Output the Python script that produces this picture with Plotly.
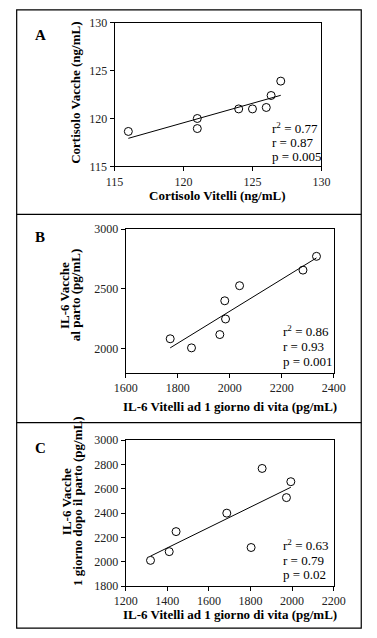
import plotly.graph_objects as go

W, H = 377, 638
SERIF = "Liberation Serif"

# ---------------- data ----------------
a_x = [116.0, 121.0, 121.0, 124.0, 125.0, 126.0, 126.35, 127.05]
a_y = [118.65, 120.0, 118.95, 121.0, 121.0, 121.15, 122.4, 123.9]
a_fit_x = [116.0, 127.05]
a_fit_y = [117.93, 122.42]

b_x = [1771, 1853, 1962, 1981, 1984, 2038, 2282, 2334]
b_y = [2084, 2008, 2119, 2401, 2249, 2527, 2657, 2772]
b_fit_x = [1771, 2334]
b_fit_y = [2008, 2759]

c_x = [1319, 1409, 1442, 1686, 1803, 1856, 1973, 1994]
c_y = [2011, 2083, 2248, 2400, 2117, 2768, 2528, 2659]
c_fit_x = [1319, 1994]
c_fit_y = [2046, 2613]

a_stats = ["r<sup>2</sup> = 0.77", "r = 0.87", "p = 0.005"]
b_stats = ["r<sup>2</sup> = 0.86", "r = 0.93", "p = 0.001"]
c_stats = ["r<sup>2</sup> = 0.63", "r = 0.79", "p = 0.02"]

a_xticks = [115, 120, 125, 130]
a_yticks = [115, 120, 125, 130]
b_xticks = [1600, 1800, 2000, 2200, 2400]
b_yticks = [2000, 2500, 3000]
c_xticks = [1200, 1400, 1600, 1800, 2000, 2200]
c_yticks = [1800, 2000, 2200, 2400, 2600, 2800, 3000]

panels = [
    dict(letter="A", x=a_x, y=a_y, fx=a_fit_x, fy=a_fit_y, stats=a_stats,
         xt=a_xticks, yt=a_yticks, xr=[115, 130], yr=[115, 130],
         xtitle="Cortisolo Vitelli (ng/mL)",
         ytitle=["Cortisolo Vacche (ng/mL)"], ytc=88,
         px=(109.5, 330.5), py=(16, 163), letter_pos=(22, 29),
         stat_pos=(276, [123.5, 138.5, 152.5]), xtt=193, ytt=[67]),
    dict(letter="B", x=b_x, y=b_y, fx=b_fit_x, fy=b_fit_y, stats=b_stats,
         xt=b_xticks, yt=b_yticks, xr=[1600, 2400], yr=[1800, 3000],
         xtitle="IL-6 Vitelli ad 1 giorno di vita (pg/mL)",
         ytitle=["IL-6 Vacche", "al parto (pg/mL)"], ytc=295,
         px=(121.5, 343.5), py=(227, 374), letter_pos=(22, 235),
         stat_pos=(287.5, [331.5, 347.5, 362]), xtt=408, ytt=[56, 68]),
    dict(letter="C", x=c_x, y=c_y, fx=c_fit_x, fy=c_fit_y, stats=c_stats,
         xt=c_xticks, yt=c_yticks, xr=[1200, 2200], yr=[1800, 3000],
         xtitle="IL-6 Vitelli ad 1 giorno di vita (pg/mL)",
         ytitle=["IL-6 Vacche", "1 giorno dopo il parto (pg/mL)"], ytc=506,
         px=(121.5, 343.5), py=(443, 592), letter_pos=(22, 451),
         stat_pos=(287.5, [550.5, 566, 580]), xtt=621, ytt=[59, 70.5]),
]


def fx(p):
    return p / W


def fy(p):
    return 1 - p / H


fig = go.Figure()
annotations = []
layout = {}

for i, pnl in enumerate(panels):
    n = "" if i == 0 else str(i + 1)
    xa, ya = "x" + n, "y" + n
    fig.add_trace(go.Scatter(
        x=pnl["x"], y=pnl["y"], mode="markers", xaxis=xa, yaxis=ya,
        marker=dict(symbol="circle-open", size=8, color="black",
                    line=dict(width=1, color="black")),
        showlegend=False))
    fig.add_trace(go.Scatter(
        x=pnl["fx"], y=pnl["fy"], mode="lines", xaxis=xa, yaxis=ya,
        line=dict(color="black", width=1), showlegend=False))

    tickfont = dict(family=SERIF, size=12, color="#222222")
    layout["xaxis" + n] = dict(
        domain=[fx(pnl["px"][0]), fx(pnl["px"][1])], anchor=ya,
        range=pnl["xr"], tickvals=pnl["xt"], ticks="outside", ticklen=4,
        tickwidth=1, tickcolor="black", showline=True, linecolor="black",
        linewidth=1, mirror=True, showgrid=False, zeroline=False,
        tickfont=tickfont, fixedrange=True)
    layout["yaxis" + n] = dict(
        domain=[fy(pnl["py"][1]), fy(pnl["py"][0])], anchor=xa,
        range=pnl["yr"], tickvals=pnl["yt"], ticks="outside", ticklen=4,
        tickwidth=1, tickcolor="black", showline=True, linecolor="black",
        linewidth=1, mirror=True, showgrid=False, zeroline=False,
        tickfont=tickfont, fixedrange=True)

    titlefont = dict(family=SERIF, size=13, color="black", weight="bold")
    annotations.append(dict(
        text=pnl["xtitle"], xref="paper", yref="paper",
        x=fx((pnl["px"][0] + pnl["px"][1]) / 2), y=fy(pnl["xtt"]),
        xanchor="center", yanchor="middle", showarrow=False, font=titlefont))
    for line_txt, lx in zip(pnl["ytitle"], pnl["ytt"]):
        annotations.append(dict(
            text=line_txt, xref="paper", yref="paper",
            x=fx(lx), y=fy(pnl["ytc"]),
            xanchor="center", yanchor="middle", showarrow=False,
            textangle=-90, font=titlefont))
    annotations.append(dict(
        text=pnl["letter"], xref="paper", yref="paper",
        x=fx(pnl["letter_pos"][0]), y=fy(pnl["letter_pos"][1]),
        xanchor="left", yanchor="middle", showarrow=False,
        font=dict(family=SERIF, size=15, color="black", weight="bold")))
    sx, sys_ = pnl["stat_pos"]
    for txt, yy in zip(pnl["stats"], sys_):
        annotations.append(dict(
            text=txt, xref="paper", yref="paper", x=fx(sx), y=fy(yy),
            xanchor="left", yanchor="middle", showarrow=False,
            font=dict(family=SERIF, size=13, color="black")))

shapes = [
    dict(type="rect", xref="paper", yref="paper", x0=fx(5), x1=fx(373),
         y0=fy(635), y1=fy(3), line=dict(color="black", width=1.2)),
    dict(type="line", xref="paper", yref="paper", x0=fx(5), x1=fx(373),
         y0=fy(212), y1=fy(212), line=dict(color="black", width=1.2)),
    dict(type="line", xref="paper", yref="paper", x0=fx(5), x1=fx(373),
         y0=fy(425), y1=fy(425), line=dict(color="black", width=1.2)),
]

fig.update_layout(
    width=W, height=H, margin=dict(l=0, r=0, t=0, b=0),
    paper_bgcolor="white", plot_bgcolor="white",
    font=dict(family=SERIF), hovermode=False,
    annotations=annotations, shapes=shapes, showlegend=False,
    **layout)

fig.write_html(
    "out.html",
    config={"displayModeBar": False, "staticPlot": True},
    post_script="document.body.style.margin='0';document.body.style.overflow='hidden';")
